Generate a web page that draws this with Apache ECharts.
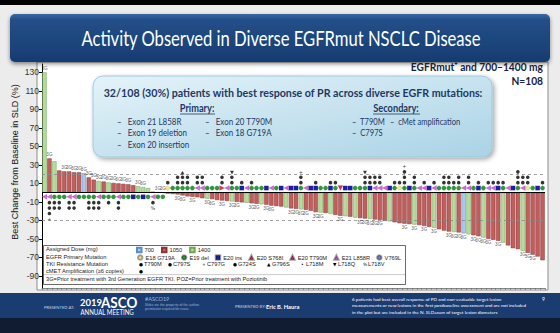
<!DOCTYPE html>
<html>
<head>
<meta charset="utf-8">
<script src="https://cdn.jsdelivr.net/npm/echarts@6/dist/echarts.min.js"></script>
<style>
html,body{margin:0;padding:0;background:#ececec;overflow:hidden;}
#chart{width:560px;height:333px;}
</style>
</head>
<body>
<div id="chart"></div>
<script>
// ---------------- data ----------------
// best % change from baseline in SLD, one value per patient (sorted waterfall)
const change = [130,37,34,24,23,23,22,22,21,16.5,
  14,12.5,12,11,10.5,10,9.5,9,8,7,
  6,5,1,0.5,0,-1,-1.5,-2,-3,-4,
  -4.5,-5,-6,-6.5,-7,-8,-8.5,-9,-9.5,-10,
  -10.5,-11,-11.5,-12,-12.5,-13,-14,-14.5,-15,-16,
  -17,-17.5,-18,-18.5,-19.5,-21,-21.5,-22,-23,-24,
  -25,-25.5,-26,-27,-27.5,-28,-28.5,-29,-29.5,-30.5,
  -31,-32,-33,-33.5,-34,-34.5,-35,-36,-37,-38,
  -39.5,-41,-42,-42.5,-43,-44,-45,-46,-47,-48.5,
  -50,-51,-52,-54,-57,-60,-61,-63,-65,-67,
  -69,-73];
// assigned dose (mg) per patient
const dose = [1400,1050,1400,1050,1050,1050,1050,1050,700,1050,
  1050,1400,1050,1400,1050,1050,1050,1050,1050,1400,
  1400,1400,1050,1400,1400,1050,1050,1050,1050,1050,
  1050,1050,1050,1400,1050,1050,1050,1050,1400,1050,
  1050,1400,1050,1050,1400,1050,1050,1050,1050,1400,
  1050,1050,1400,1050,1050,1050,1400,1050,1400,1050,
  1050,1400,1050,1400,1050,1050,1400,1050,1050,1050,
  1400,1050,1050,1050,1050,1400,1050,1050,1050,1400,
  1050,1050,1050,1400,1050,700,1400,1050,1050,1400,
  1050,1050,1050,1400,1050,1050,1050,1400,1050,1050,
  1050,1050];
// EGFR primary mutation per patient: A=E18 G719A, D=E19 del, I=E20 ins, S=E20 S768I, T=E20 T790M, L=E21 L858R, V=V769L
const primary = ['L','L','D','D','D','L','L','D','D','D',
  'D','L','D','D','D','L','D','D','I','D',
  'I','D','L','D','D','A','D','D','D','D',
  'D','L','L','D','D','D','S','L','D','D',
  'I','L','D','D','D','I','L','D','I','L',
  'I','I','D','L','I','I','D','D','I','D',
  'T','I','I','D','D','D','I','L','L','L',
  'I','D','A','D','I','D','L','L','I','L',
  'D','D','D','D','D','L','L','D','I','D',
  'L','L','I','D','L','I','D','L','A','D',
  'I','D'];
// number of TKI resistance mutations / cMET marks stacked per patient
const resist = [0,3,2,2,0,2,2,0,0,2,
  2,2,0,1,0,2,0,0,0,0,
  0,0,1,0,0,1,0,2,2,2,
  0,2,2,0,0,0,2,0,2,0,
  1,0,1,0,0,0,0,0,0,0,
  0,0,2,0,0,1,0,0,1,1,
  0,0,0,0,0,2,2,2,2,0,
  0,1,1,3,0,2,0,1,0,1,
  0,2,2,1,2,0,2,0,1,0,
  1,1,1,1,0,0,3,2,2,0,
  0,1];
// other resistance marks drawn as glyphs: [patient index, glyph]
const otherMut = [[1,'+'],[22,'%'],[28,'▲'],[38,'▼'],[52,'+'],[65,'▼'],[73,'+']];
// patients with prior 3rd generation TKI treatment (label "3G")
const priorTx = [0,1,4,5,6,7,8,9,10,11,12,13,14,15,16,17,19,20,23,24,
  27,28,30,33,34,36,38,39,42,43,45,46,50,51,52,53,55,56,60,64,65,66,67,68,
  73,75,77,79,82,83,84,85,87,88,89,90,92,97,98,99];
const yTicks = [-90,-70,-50,-30,-10,10,30,50,70,90,110,130];
const doseLevels = ['700','1050','1400'];
const primaryTypes = ['A','D','I','S','T','L','V'];
const primaryNames = {A:'E18 G719A', D:'E19 del', I:'E20 ins', S:'E20 S768I', T:'E20 T790M', L:'E21 L858R', V:'V769L'};
const tkiNames = ['T790M','C797S','C797G','G724S','G796S','L718M','L718Q','L718V'];
const tkiGlyphs = ['●','●','+','●','▲','•','▼','%'];

if (dose.length !== change.length || primary.length !== change.length || resist.length !== change.length) {
  throw new Error('length mismatch ' + change.length + ' ' + dose.length + ' ' + primary.length + ' ' + resist.length);
}

// ---------------- styles ----------------
const doseFill = {'700':'#a9c8ea','1050':'#c05f5e','1400':'#b5dc9e'};
const doseEdge = {'700':'#5a8ccc','1050':'#8a3535','1400':'#6ca653'};
const primaryStyle = {
  A:{symbol:'circle', color:'#f1e98e', size:4.2, rot:0},
  D:{symbol:'circle', color:'#2e9a3b', size:4.4, rot:0},
  I:{symbol:'rect', color:'#1c20a6', size:4.4, rot:0},
  S:{symbol:'triangle', color:'#e03a5a', size:5, rot:-90},
  T:{symbol:'triangle', color:'#c8347a', size:5, rot:180},
  L:{symbol:'triangle', color:'#d468da', size:5, rot:90},
  V:{symbol:'circle', color:'#6f86cf', size:4.2, rot:0}
};
const NAVY = '#1f3864';
const cats = change.map((_, i) => 'P' + (i + 1));
const sgn = i => (change[i] >= 0 ? 1 : -1);

function T(x, y, text, o) {
  o = o || {};
  return {
    type: 'text', x: x, y: y, z: o.z != null ? o.z : 30,
    scaleX: o.sx != null ? o.sx : 1, rotation: o.rot || 0,
    style: {
      text: text, fill: o.color || NAVY,
      fontSize: o.size || 10, fontFamily: o.family || 'Lato',
      fontWeight: o.weight || 'normal',
      align: o.align || 'left', verticalAlign: o.va || 'middle'
    }
  };
}
function L(x1, y1, x2, y2, color, w, z) {
  return {type:'line', z: z || 30, shape:{x1:x1,y1:y1,x2:x2,y2:y2}, style:{stroke:color, lineWidth:w}};
}

// ---------------- series ----------------
const series = [];
doseLevels.forEach((d, k) => {
  const s = {
    name: d, type: 'bar', barWidth: '88%', barGap: '-100%', z: 2,
    data: change.map((v, i) => (String(dose[i]) === d ? v : '-')),
    itemStyle: {color: doseFill[d], borderColor: doseEdge[d], borderWidth: 0.5}
  };
  if (k === 0) {
    s.markLine = {
      silent: true, symbol: ['none','none'], label: {show: false},
      data: [
        {yAxis: 20, lineStyle: {type: [3,3], color: '#8a8a8a', width: 0.8}},
        {yAxis: -30, lineStyle: {type: [3,3], color: '#8a8a8a', width: 0.8}},
        {yAxis: 0, lineStyle: {type: 'solid', color: '#000', width: 1.2}}
      ]
    };
  }
  series.push(s);
});
primaryTypes.forEach(c => {
  const st = primaryStyle[c];
  series.push({
    name: primaryNames[c], type: 'scatter', z: 5,
    symbol: st.symbol, symbolSize: st.size, symbolRotate: st.rot,
    itemStyle: {color: st.color, borderColor: 'rgba(0,0,0,0.35)', borderWidth: 0.3, opacity: 1},
    data: primary.map((p, i) => (p === c ? {value: [cats[i], 0], symbolOffset: [0, sgn(i) > 0 ? 4.2 : -4.6]} : null)).filter(Boolean)
  });
});
const dots = [];
resist.forEach((n, i) => {
  for (let k = 0; k < n; k++) dots.push({value: [cats[i], 0], symbolOffset: [0, sgn(i) * (10 + 5.4 * k)]});
});
series.push({name: 'TKI resistance', type: 'scatter', z: 5, symbol: 'circle', symbolSize: 3.6,
  itemStyle: {color: '#000'}, data: dots});
series.push({name: 'other', type: 'scatter', z: 5, symbol: 'circle', symbolSize: 1,
  itemStyle: {color: 'transparent'},
  label: {show: true, position: 'inside', fontSize: 5, color: '#000', fontFamily: 'DejaVu Sans',
    formatter: p => p.data.glyph},
  data: otherMut.map(([i, g]) => ({value: [cats[i], 0], glyph: g,
    symbolOffset: [0, sgn(i) * (10 + 5.4 * resist[i])]}))});
series.push({name: 'prior', type: 'scatter', z: 5, symbol: 'circle', symbolSize: 1,
  itemStyle: {color: 'transparent'},
  label: {show: true, fontSize: 4.6, color: '#333', formatter: '3G', distance: 1},
  data: priorTx.map(i => ({value: [cats[i], change[i]], label: {position: change[i] >= 0 ? 'top' : 'bottom'}}))});

// ---------------- slide graphics ----------------
const legendText = {size: 5.7, color: '#222', family: 'Liberation Sans', z: 30};
const tkiX = [139,168,202,233,267,301,333,363];
const g = [
  {type:'rect', z:1, shape:{x:0,y:0,width:560,height:5}, style:{fill:'#000'}},
  {type:'rect', z:1, shape:{x:10,y:14,width:540,height:48,r:5},
    style:{fill:{type:'linear',x:0,y:0,x2:0,y2:1,colorStops:[{offset:0,color:'#3a68a3'},{offset:0.12,color:'#234f89'},{offset:1,color:'#173c71'}]},
      shadowBlur:4, shadowColor:'rgba(0,0,0,0.45)', shadowOffsetY:2}},
  T(281, 38, 'Activity Observed in Diverse EGFRmut NSCLC Disease', {size:20.5, color:'#fff', align:'center', sx:0.81}),
  {type:'rect', z:-1, shape:{x:37,y:62,width:511,height:228}, style:{fill:'#fff', stroke:'#8c8c8c', lineWidth:1}},
  T(543, 66, 'EGFRmut⁺ and 700–1400 mg', {size:12, weight:'bold', color:'#16213e', align:'right', sx:0.85}),
  T(543, 80, 'N=108', {size:12, weight:'bold', color:'#16213e', align:'right', sx:0.85}),
  // callout
  {type:'rect', z:20, shape:{x:93,y:76,width:399,height:81,r:10},
    style:{fill:{type:'linear',x:0,y:0,x2:1,y2:1,colorStops:[{offset:0,color:'#e4f3f9'},{offset:1,color:'#aad3e5'}]},
      stroke:'#9ccbe0', lineWidth:1, shadowBlur:5, shadowColor:'rgba(0,0,0,0.35)', shadowOffsetX:2, shadowOffsetY:2}},
  T(293, 92, '32/108 (30%) patients with best response of PR across diverse EGFR mutations:', {size:12, weight:'bold', align:'center', sx:0.89}),
  T(197, 108, 'Primary:', {size:10.5, weight:'bold', align:'center', sx:0.88}),
  L(180, 114, 215, 114, NAVY, 0.8),
  T(396, 108, 'Secondary:', {size:10.5, weight:'bold', align:'center', sx:0.88}),
  L(373, 114, 420, 114, NAVY, 0.8),
  T(117, 121.5, '–   Exon 21 L858R', {size:9.5, sx:0.84}),
  T(117, 132.5, '–   Exon 19 deletion', {size:9.5, sx:0.84}),
  T(117, 144, '–   Exon 20 insertion', {size:9.5, sx:0.84}),
  T(205, 121.5, '–   Exon 20 T790M', {size:9.5, sx:0.84}),
  T(205, 132.5, '–   Exon 18 G719A', {size:9.5, sx:0.84}),
  T(352, 121.5, '–  T790M', {size:9.5, sx:0.8}),
  T(390, 121.5, '–  cMet amplification', {size:9.5, sx:0.8}),
  T(352, 132.5, '–  C797S', {size:9.5, sx:0.8}),
  // y axis title
  T(15, 162, 'Best Change from Baseline in SLD (%)', {size:9, color:'#111', align:'center', rot:Math.PI/2, family:'Liberation Sans'}),
  // legend box
  {type:'rect', z:3, shape:{x:43.5,y:245.5,width:362,height:39}, style:{fill:'#fff', stroke:'#444', lineWidth:0.8}},
  L(44, 274.6, 405, 274.6, '#999', 0.5, 4),
  T(46, 249.2, 'Assigned Dose (mg)', legendText),
  T(46, 256.6, 'EGFR Primary Mutation', legendText),
  T(46, 264, 'TKI Resistance Mutation', legendText),
  T(46, 271, 'cMET Amplification (≥6 copies)', legendText),
  T(139, 271, '●', Object.assign({}, legendText, {family:'DejaVu Sans', size:4.5, color:'#000'})),
  T(46, 278.6, '3G=Prior treatment with 3rd Generation EGFR TKI. POZ=Prior treatment with Poziotinib', legendText),
  // footer
  {type:'rect', z:40, shape:{x:0,y:293,width:560,height:25}, style:{fill:'#1b3c70'}},
  {type:'rect', z:40, shape:{x:0,y:318,width:560,height:15}, style:{fill:'#111c33'}},
  T(44, 307, 'PRESENTED AT:', {size:4.2, color:'#c9d4ea', z:41}),
  T(80, 302.5, '2019', {size:9.5, weight:'bold', color:'#fff', z:41}),
  T(101, 302, 'ASCO', {size:15, weight:'bold', color:'#fff', z:41, sx:0.9}),
  T(80.5, 312, 'ANNUAL MEETING', {size:6.6, color:'#fff', z:41, sx:0.92}),
  T(145, 299, '#ASCO19', {size:5.5, color:'#9fb8e2', z:41}),
  T(145, 304.5, 'Slides are the property of the author,', {size:3.4, color:'#9fb3d6', z:41}),
  T(145, 308.5, 'permission required for reuse.', {size:3.4, color:'#9fb3d6', z:41}),
  T(235, 306.5, 'PRESENTED BY:', {size:4.2, color:'#c9d4ea', z:41}),
  T(266, 306.5, 'Eric B. Haura', {size:5.8, weight:'bold', color:'#fff', z:41}),
  T(352, 298.5, '6 patients had best overall response of PD and non-evaluable target lesion', {size:4.6, color:'#fff', z:41}),
  T(352, 305, 'measurements or new lesions in the first postbaseline assessment and are not included', {size:4.6, color:'#fff', z:41}),
  T(352, 311.5, 'in the plot but are included in the N. SLD=sum of target lesion diameters', {size:4.6, color:'#fff', z:41}),
  T(542, 298.5, '9', {size:5, color:'#fff', z:41})
];
tkiNames.forEach((n, k) => {
  g.push(T(tkiX[k], 264, tkiGlyphs[k], Object.assign({}, legendText, {family:'DejaVu Sans', size:4.5, color:'#000'})));
  g.push(T(tkiX[k] + 5, 264, n, legendText));
});

// ---------------- chart ----------------
const chart = echarts.init(document.getElementById('chart'), null, {renderer: 'svg'});
chart.setOption({
  animation: false,
  backgroundColor: '#ececec',
  textStyle: {fontFamily: 'Liberation Sans'},
  grid: {left: 42, right: 15, top: 64, bottom: 45},
  legend: [
    {data: doseLevels, left: 136, top: 246.8, padding: 0, icon: 'rect', itemWidth: 4.5, itemHeight: 4.5, itemGap: 7,
      selectedMode: false, z: 20, textStyle: {fontSize: 5.7, color: '#222', padding: [0,0,0,-2]}},
    {data: primaryTypes.map(c => primaryNames[c]), left: 137, top: 254.3, padding: 0, itemWidth: 4.5, itemHeight: 4.5, itemGap: 6,
      selectedMode: false, z: 20, textStyle: {fontSize: 5.7, color: '#222', padding: [0,0,0,-2]}}
  ],
  xAxis: {
    type: 'category', data: cats,
    axisLine: {show: true, onZero: false, lineStyle: {color: '#666', width: 0.8}},
    axisTick: {show: true, interval: 0, length: 2, lineStyle: {color: '#666', width: 0.6}},
    axisLabel: {show: false}, splitLine: {show: false}
  },
  yAxis: {
    type: 'value', min: -103, max: 139,
    axisLine: {show: true, lineStyle: {color: '#000', width: 1}},
    axisTick: {show: true, customValues: yTicks, length: 3, lineStyle: {color: '#000'}},
    axisLabel: {customValues: yTicks, fontSize: 8.5, color: '#333', margin: 3},
    splitLine: {show: false}
  },
  series: series,
  graphic: {elements: g}
});
</script>
</body>
</html>
